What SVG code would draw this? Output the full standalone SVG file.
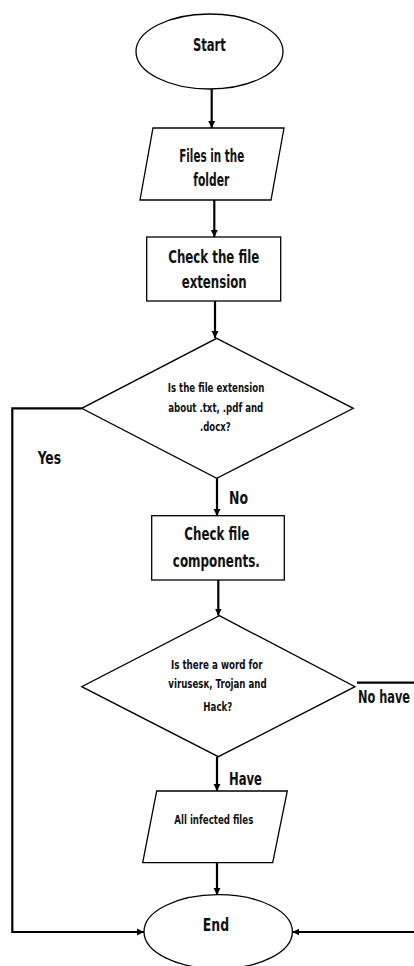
<svg xmlns="http://www.w3.org/2000/svg" width="414" height="966" viewBox="0 0 414 966">
<style>
.shape{fill:#fff;stroke:#000;stroke-width:1.3}
.conn{fill:none;stroke:#000;stroke-width:2.2}
text{font-family:"Liberation Sans Narrow","DejaVu Sans Condensed","Liberation Sans",sans-serif;font-weight:bold;fill:#111;text-anchor:middle}
.big{font-size:17px}
.sm{font-size:11.5px}
.lbl{font-size:17px;text-anchor:start}
</style>
<defs>
<marker id="arr" markerUnits="userSpaceOnUse" markerWidth="8" markerHeight="8" refX="7" refY="4" orient="auto">
<path d="M0,0.5 L7,4 L0,7.5 z" fill="#000"/>
</marker>
</defs>
<rect width="414" height="966" fill="#fff"/>
<g id="connectors">
<path class="conn" d="M211.7,89 V128" marker-end="url(#arr)"/>
<path class="conn" d="M214.3,200 V237" marker-end="url(#arr)"/>
<path class="conn" d="M215,301 V338" marker-end="url(#arr)"/>
<path class="conn" d="M217,478 V516" marker-end="url(#arr)"/>
<path class="conn" d="M218.3,580 V615.5" marker-end="url(#arr)"/>
<path class="conn" d="M217,757 V791" marker-end="url(#arr)"/>
<path class="conn" d="M217,863 V895" marker-end="url(#arr)"/>
<path class="conn" d="M81.7,408.3 H12.3 V932 H144" marker-end="url(#arr)"/>
<path class="conn" d="M357,682.7 H414"/>
<path class="conn" d="M414,932 H292.3" marker-end="url(#arr)"/>
<text class="lbl" x="37.7" y="464" textLength="23.3" lengthAdjust="spacingAndGlyphs">Yes</text>
<text class="lbl" x="229" y="504" textLength="19" lengthAdjust="spacingAndGlyphs">No</text>
<text class="lbl" x="410" y="703.3" text-anchor="end" style="text-anchor:end" textLength="52" lengthAdjust="spacingAndGlyphs">No have</text>
<text class="lbl" x="229" y="785" textLength="33" lengthAdjust="spacingAndGlyphs">Have</text>
</g>
<g id="start">
<ellipse class="shape" cx="209.5" cy="51.5" rx="73.5" ry="37.5"/>
<text class="big" x="209.4" y="50.5" textLength="33" lengthAdjust="spacingAndGlyphs">Start</text>
</g>
<g id="files">
<polygon class="shape" points="153,128 284,128 271,200 140,200"/>
<text class="big" x="211.7" y="162" textLength="65" lengthAdjust="spacingAndGlyphs">Files in the</text>
<text class="big" x="211.3" y="185.5" textLength="36" lengthAdjust="spacingAndGlyphs">folder</text>
</g>
<g id="check-ext">
<rect class="shape" x="146.7" y="237" width="134" height="64"/>
<text class="big" x="213.8" y="263.3" textLength="91" lengthAdjust="spacingAndGlyphs">Check the file</text>
<text class="big" x="214.2" y="288.3" textLength="65" lengthAdjust="spacingAndGlyphs">extension</text>
</g>
<g id="decision-ext">
<polygon class="shape" points="216.7,338.3 353.3,408.3 216.7,478.3 81.7,408.3"/>
<text class="sm" x="216" y="391.7" textLength="96.6" lengthAdjust="spacingAndGlyphs">Is the file extension</text>
<text class="sm" x="215.8" y="412.3" textLength="95" lengthAdjust="spacingAndGlyphs">about .txt, .pdf and</text>
<text class="sm" x="215.3" y="430.7" textLength="30.7" lengthAdjust="spacingAndGlyphs">.docx?</text>
</g>
<g id="check-comp">
<rect class="shape" x="151.7" y="515.7" width="132.6" height="64.3"/>
<text class="big" x="216.8" y="540" textLength="65" lengthAdjust="spacingAndGlyphs">Check file</text>
<text class="big" x="216.3" y="567" textLength="87" lengthAdjust="spacingAndGlyphs">components.</text>
</g>
<g id="decision-virus">
<polygon class="shape" points="219.3,615.7 355,686.7 218.3,756.7 81.7,686.7"/>
<text class="sm" x="216.8" y="669.3" textLength="91.7" lengthAdjust="spacingAndGlyphs">Is there a word for</text>
<text class="sm" x="217.5" y="688.3" textLength="98.3" lengthAdjust="spacingAndGlyphs">virusesк, Trojan and</text>
<text class="sm" x="217.8" y="710.7" textLength="29" lengthAdjust="spacingAndGlyphs">Hack?</text>
</g>
<g id="infected">
<polygon class="shape" points="156.7,791 287.3,791 272.7,862.7 142.7,862.7"/>
<text class="sm" x="213.8" y="824.3" textLength="79" lengthAdjust="spacingAndGlyphs">All infected files</text>
</g>
<g id="end">
<ellipse class="shape" cx="218.2" cy="931.7" rx="74.2" ry="37"/>
<text class="big" x="215.9" y="931" textLength="26.3" lengthAdjust="spacingAndGlyphs">End</text>
</g>
</svg>
